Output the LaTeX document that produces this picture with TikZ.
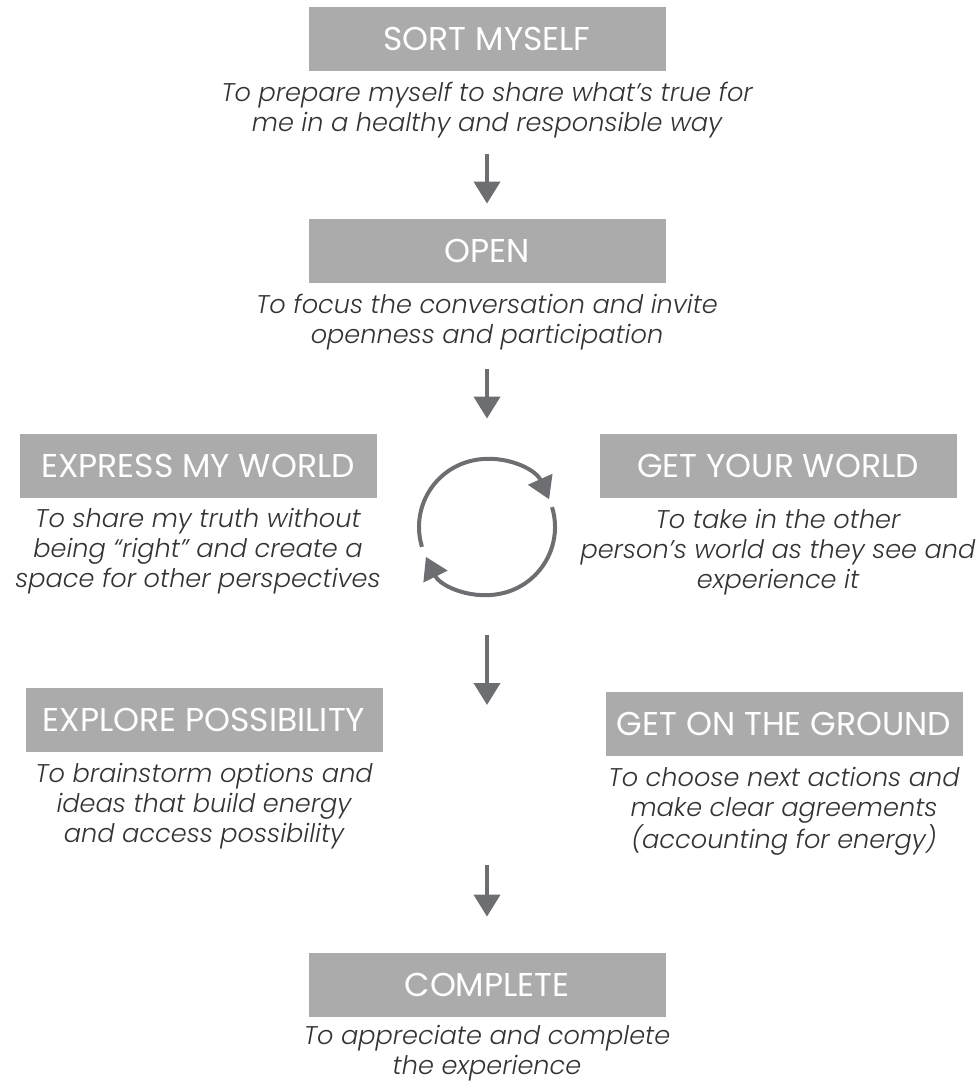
\documentclass[tikz,border=0pt]{standalone}
\usepackage{fontspec}
\setmainfont{Poppins}[ItalicFont={Poppins Light Italic}]
\usetikzlibrary{arrows.meta,positioning}
\definecolor{stagegray}{HTML}{ABABAB}
\definecolor{arrowgray}{HTML}{6D6E71}
\definecolor{notegray}{HTML}{333333}
\begin{document}
\begin{tikzpicture}[x=0.5pt,y=0.5pt,>={Triangle[width=13pt,length=11pt]},
stage/.style={fill=stagegray,text=white,minimum width=178.5pt,minimum height=32pt,inner sep=0pt,font=\fontsize{16.5}{18}\selectfont},
note/.style={below=5pt of #1,inner sep=0pt,align=center,text=notegray,font=\fontsize{12.8}{15}\selectfont\itshape},
arr/.style={->,line width=2pt,draw=arrowgray,fill=arrowgray},
cyc/.style={->,line width=2pt,draw=arrowgray,fill=none}]
\useasboundingbox (0,0) rectangle (978,-1085);
% main column
\node[stage] (sort) at (487,-39) {SORT MYSELF};
\node[note=sort] (sortn) {To prepare myself to share what’s true for\\me in a healthy and responsible way};
\node[stage] (open) at (487,-251) {OPEN};
\node[note=open] (openn) {To focus the conversation and invite\\openness and participation};
\node[circle,minimum size=68pt,inner sep=0pt] (loop) at (487,-527) {};
% side stages
\node[stage] (express) at (198,-465.5) {EXPRESS MY WORLD};
\node[note=express] (expressn) {To share my truth without\\being “right” and create a\\space for other perspectives};
\node[stage] (get) at (778,-466) {GET YOUR WORLD};
\node[note=get] (getn) {To take in the other\\person’s world as they see and\\experience it};
\node[stage] (explore) at (204,-720) {EXPLORE POSSIBILITY};
\node[note=explore] (exploren) {To brainstorm options and\\ideas that build energy\\and access possibility};
\node[stage] (ground) at (784,-724) {GET ON THE GROUND};
\node[note=ground] (groundn) {To choose next actions and\\make clear agreements\\(accounting for energy)};
\node[stage] (complete) at (487,-985) {COMPLETE};
\node[note=complete,below=3.5pt of complete] (completen) {To appreciate and complete\\the experience};
\coordinate (fork) at (487,-705);
\coordinate (merge) at (487,-865);
% arrows
\draw[arr,shorten <=8pt,shorten >=7.5pt] (sortn.south)--(open.north);
\draw[arr,shorten <=9.5pt,shorten >=20pt] (openn.south)--(loop.north);
\draw[arr,shorten <=20pt] (loop.south)--(fork);
\draw[arr,shorten >=18pt] (merge)--(complete.north);
\draw[cyc] ([shift={(197:34pt)}]loop.center) arc[start angle=197,end angle=24,radius=34pt];
\draw[cyc] ([shift={(17:34pt)}]loop.center) arc[start angle=17,end angle=-154,radius=34pt];
\end{tikzpicture}
\end{document}
